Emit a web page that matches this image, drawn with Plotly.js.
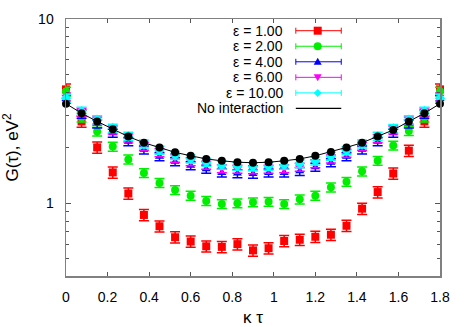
<!DOCTYPE html>
<html>
<head>
<meta charset="utf-8">
<script src="https://cdn.plot.ly/plotly-3.0.1.min.js"></script>
<style>
  body { margin: 0; }
  #chart { width: 467px; height: 327px; }
</style>
</head>
<body>
<div id="chart"></div>
<script>
    // kappa*tau grid
    var kt = [0, 0.075, 0.15, 0.225, 0.3, 0.375, 0.45, 0.525, 0.6, 0.675, 0.75, 0.825, 0.9,
              0.975, 1.05, 1.125, 1.2, 1.275, 1.35, 1.425, 1.5, 1.575, 1.65, 1.725, 1.8];

    var eps1 = [4.15, 2.78, 2.01, 1.47, 1.13, 0.864, 0.75, 0.654, 0.62, 0.584, 0.58, 0.60, 0.555,
                0.57, 0.624, 0.634, 0.658, 0.675, 0.755, 0.935, 1.15, 1.45, 1.93, 2.78, 4.15];
    var eps2 = [4.04, 2.92, 2.45, 2.03, 1.73, 1.46, 1.29, 1.18, 1.10, 1.03, 0.99, 1.0, 1.013,
                1.02, 0.99, 1.05, 1.10, 1.22, 1.31, 1.49, 1.70, 2.06, 2.47, 2.92, 4.04];
    var eps4 = [3.68, 3.05, 2.70, 2.40, 2.16, 1.95, 1.79, 1.68, 1.60, 1.53, 1.46, 1.45, 1.44,
                1.46, 1.46, 1.49, 1.57, 1.66, 1.79, 1.95, 2.16, 2.40, 2.70, 3.05, 3.68];
    var eps6 = [3.78, 3.12, 2.80, 2.50, 2.26, 2.04, 1.88, 1.76, 1.68, 1.61, 1.54, 1.53, 1.52,
                1.53, 1.54, 1.57, 1.64, 1.74, 1.87, 2.04, 2.25, 2.50, 2.80, 3.13, 3.78];
    var eps10 = [3.72, 3.16, 2.84, 2.56, 2.31, 2.10, 1.94, 1.82, 1.74, 1.67, 1.61, 1.59, 1.58,
                 1.59, 1.61, 1.64, 1.70, 1.80, 1.93, 2.10, 2.31, 2.55, 2.84, 3.16, 3.72];
    var noInteraction = [3.47, 3.08, 2.78, 2.52, 2.30, 2.13, 2.01, 1.89, 1.81, 1.74, 1.70, 1.67, 1.66,
                         1.67, 1.70, 1.74, 1.81, 1.90, 2.01, 2.13, 2.30, 2.50, 2.78, 3.08, 3.47];

    var labels = ['ε = 1.00', 'ε = 2.00', 'ε = 4.00', 'ε = 6.00', 'ε = 10.00', 'No interaction'];
    var colors = ['#ff0000', '#00ee00', '#0000ff', '#ff00ff', '#00ffff', '#000000'];
    var symbols = ['square', 'circle', 'triangle-up', 'triangle-down', 'diamond', 'circle'];
    var errPct = [7, 5.5, 5, 5, 5];

    var yTicks = [1, 10];
    var yMinor = [0.4, 0.5, 0.6, 0.7, 0.8, 0.9, 2, 3, 4, 5, 6, 7, 8, 9];
    var xTicks = [0, 0.2, 0.4, 0.6, 0.8, 1, 1.2, 1.4, 1.6, 1.8];

    var series = [eps1, eps2, eps4, eps6, eps10];
    var data = [];

    series.forEach(function (ys, i) {
        data.push({
            x: kt,
            y: ys,
            mode: 'markers',
            name: labels[i],
            cliponaxis: false,
            marker: {symbol: symbols[i], color: colors[i], size: 8},
            error_y: {type: 'percent', value: errPct[i], color: colors[i], thickness: 1.5, width: 5}
        });
    });

    data.push({
        x: kt,
        y: noInteraction,
        mode: 'lines+markers',
        name: labels[5],
        cliponaxis: false,
        line: {color: '#000', width: 1},
        marker: {symbol: 'circle', color: '#000', size: 8}
    });

    // hand-made legend: text on the left, sample on the right (gnuplot style)
    var annotations = [];
    var shapes = [];
    var rowTop = 0.9545, rowStep = 0.0605;
    var textX = 0.586, lineX0 = 0.6145, lineX1 = 0.736, markX = 0.673;

    labels.forEach(function (lab, i) {
        var y = rowTop - i * rowStep;
        annotations.push({
            xref: 'paper', yref: 'paper', x: textX, y: y,
            xanchor: 'right', yanchor: 'middle', showarrow: false,
            text: lab, font: {size: 14, color: '#000'}
        });
        shapes.push({
            type: 'line', xref: 'paper', yref: 'paper',
            x0: lineX0, x1: lineX1, y0: y, y1: y,
            line: {color: colors[i], width: i === 5 ? 1.2 : 1}
        });
        if (i === 5) return;
        [lineX0, lineX1].forEach(function (cx) {
            shapes.push({
                type: 'line', xref: 'paper', yref: 'paper',
                xsizemode: 'pixel', ysizemode: 'pixel', xanchor: cx, yanchor: y,
                x0: 0, x1: 0, y0: -3, y1: 3,
                line: {color: colors[i], width: 1}
            });
        });
        var m = {
            xref: 'paper', yref: 'paper', xsizemode: 'pixel', ysizemode: 'pixel',
            xanchor: markX, yanchor: y, fillcolor: colors[i], line: {width: 0}
        };
        if (symbols[i] === 'square') {
            m.type = 'rect'; m.x0 = -4; m.x1 = 4; m.y0 = -4; m.y1 = 4;
        } else if (symbols[i] === 'circle') {
            m.type = 'circle'; m.x0 = -4; m.x1 = 4; m.y0 = -4; m.y1 = 4;
        } else if (symbols[i] === 'triangle-up') {
            m.type = 'path'; m.path = 'M-4,-3L4,-3L0,4Z';
        } else if (symbols[i] === 'triangle-down') {
            m.type = 'path'; m.path = 'M-4,3L4,3L0,-4Z';
        } else {
            m.type = 'path'; m.path = 'M-4,0L0,4L4,0L0,-4Z';
        }
        shapes.push(m);
    });

    var layout = {
        width: 467,
        height: 327,
        margin: {l: 66, r: 27, t: 19, b: 51},
        paper_bgcolor: '#fff',
        plot_bgcolor: '#fff',
        showlegend: false,
        font: {family: 'Liberation Sans, Arial, sans-serif', size: 14, color: '#000'},
        xaxis: {
            range: [0, 1.8],
            tickvals: xTicks,
            ticks: 'inside',
            ticklen: 4,
            tickcolor: '#555',
            showgrid: false,
            zeroline: false,
            showline: true,
            linecolor: '#808080',
            linewidth: 1.5,
            mirror: 'ticks',
            ticklabelstandoff: 8,
            title: {text: 'κ τ', standoff: 10}
        },
        yaxis: {
            type: 'log',
            range: [Math.log10(0.403), 1],
            tickvals: yTicks,
            ticktext: ['1', '10'],
            ticks: 'inside',
            ticklen: 5,
            tickcolor: '#555',
            minor: {tickvals: yMinor, ticks: 'inside', ticklen: 3, tickcolor: '#555'},
            showgrid: false,
            zeroline: false,
            showline: true,
            linecolor: '#808080',
            linewidth: 1.5,
            mirror: 'ticks',
            ticklabelstandoff: 8,
            title: {text: 'G(τ), eV<sup>2</sup>', standoff: 20}
        },
        annotations: annotations,
        shapes: shapes
    };

    Plotly.newPlot('chart', data, layout, {staticPlot: true});
</script>
</body>
</html>
